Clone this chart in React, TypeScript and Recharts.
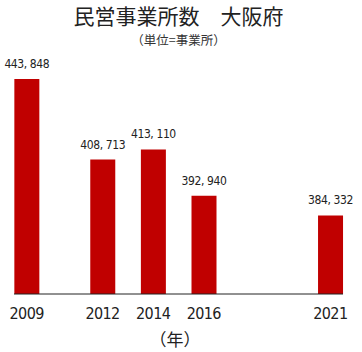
import { Bar, BarChart, LabelList, XAxis, YAxis } from "recharts";

const years = [2009, 2012, 2014, 2016, 2021];
const counts = [443848, 408713, 413110, 392940, 384332];
const yearTicks = [2009, 2012, 2014, 2016, 2021];

const data = years.map((year, i) => ({ year, count: counts[i] }));

const numFont = '"DejaVu Sans Condensed", "Liberation Sans Narrow", sans-serif';
const jpFont = '"Noto Sans CJK JP", sans-serif';

const fmt = (v: number) => v.toLocaleString("en-US").replace(",", ",\u00a0");

export default function App() {
  return (
    <div style={{ position: "absolute", left: 0, top: 0, width: 362, height: 352, background: "#fff" }}>
      <div
        style={{
          position: "absolute",
          left: 0,
          width: 357,
          top: 0,
          textAlign: "center",
          fontFamily: jpFont,
          fontSize: 21,
          lineHeight: "31px",
          color: "#222",
        }}
      >
        民営事業所数　大阪府
      </div>
      <div
        style={{
          position: "absolute",
          left: 0,
          width: 357,
          top: 31,
          textAlign: "center",
          fontFamily: jpFont,
          fontSize: 12.5,
          lineHeight: "18px",
          color: "#333",
        }}
      >
        （単位=事業所）
      </div>
      <BarChart
        width={362}
        height={352}
        data={data}
        margin={{ top: 65, right: 19, bottom: 28, left: 14 }}
      >
        <XAxis
          dataKey="year"
          type="number"
          domain={[2008.5, 2021.5]}
          ticks={yearTicks}
          tickLine={false}
          axisLine={{ stroke: "#222" }}
          tick={{ fill: "#222", fontSize: 16, fontFamily: numFont, letterSpacing: -0.6 }}
          tickMargin={8}
        />
        <YAxis hide domain={[350000, 450000]} allowDataOverflow />
        <Bar dataKey="count" fill="#c00000" barSize={25} isAnimationActive={false}>
          <LabelList
            dataKey="count"
            position="top"
            offset={11}
            formatter={(v: any) => fmt(Number(v))}
            style={{ fill: "#222", fontSize: 12, fontFamily: numFont, letterSpacing: -0.4 }}
          />
        </Bar>
      </BarChart>
      <div
        style={{
          position: "absolute",
          left: 0,
          width: 350,
          top: 327,
          textAlign: "center",
          fontFamily: jpFont,
          fontSize: 17,
          lineHeight: "24px",
          color: "#222",
        }}
      >
        （年）
      </div>
    </div>
  );
}
